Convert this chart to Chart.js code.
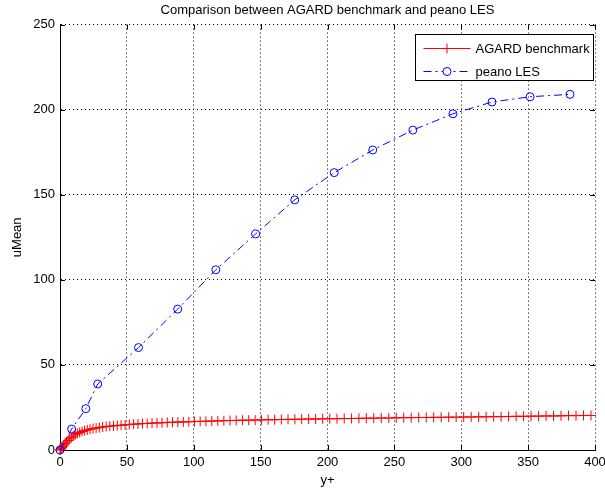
<!DOCTYPE html>
<html>
<head>
<meta charset="utf-8">
<script src="https://cdn.jsdelivr.net/npm/chart.js@4/dist/chart.umd.min.js"></script>
<style>
  html, body { margin: 0; padding: 0; background: #fff; }
  #chart { display: block; }
</style>
</head>
<body>
<canvas id="chart" width="605" height="489"></canvas>
<script>
// AGARD benchmark (red, '+')
const agardX = [0, 0.4, 0.9, 1.5, 2.2, 3.0, 3.9, 4.9, 6.0, 7.2, 8.5, 9.9, 11.4, 13.0, 14.7, 16.5, 18.4, 20.4, 22.5, 24.7,
  27.0, 29.4, 31.9, 34.5, 37.2, 40.0, 42.8, 45.7, 48.7, 51.8, 55.0, 58.3, 61.7, 65.2, 68.8, 72.5, 76.3, 80.2, 84.1, 88.1,
  92.2, 96.3, 100.5, 104.8, 109.1, 113.5, 118.0, 122.5, 127.1, 131.7, 136.4, 141.1, 145.9, 150.7, 155.6, 160.5, 165.5,
  170.5, 175.6, 180.7, 185.9, 191.1, 196.4, 201.7, 207.1, 212.5, 218.0, 223.5, 229.0, 234.6, 240.2, 245.8, 251.4, 257.0,
  262.6, 268.2, 273.8, 279.4, 285.0, 290.6, 296.2, 301.8, 307.4, 313.0, 318.6, 324.2, 329.8, 335.4, 341.0, 346.6, 352.2,
  357.8, 363.4, 369.0, 374.6, 380.2, 385.8, 391.4, 397.0];
const agardY = [0, 0.4, 0.9, 1.5, 2.2, 2.95, 3.8, 4.7, 5.6, 6.5, 7.4, 8.2, 9.0, 9.7, 10.3, 10.9, 11.4, 11.8, 12.2, 12.6,
  12.9, 13.2, 13.5, 13.8, 14.0, 14.2, 14.4, 14.6, 14.8, 15.0, 15.2, 15.3, 15.5, 15.6, 15.8, 15.9, 16.0, 16.2, 16.3, 16.4,
  16.5, 16.6, 16.7, 16.8, 16.9, 17.0, 17.1, 17.2, 17.3, 17.4, 17.5, 17.5, 17.6, 17.7, 17.8, 17.8, 17.9,
  18.0, 18.0, 18.1, 18.2, 18.2, 18.3, 18.4, 18.4, 18.5, 18.5, 18.6, 18.7, 18.7, 18.8, 18.8, 18.9, 19.0,
  19.0, 19.1, 19.1, 19.2, 19.2, 19.3, 19.3, 19.4, 19.4, 19.5, 19.5, 19.6, 19.6, 19.7, 19.8, 19.8, 19.9,
  19.9, 20.0, 20.0, 20.1, 20.2, 20.2, 20.3, 20.3];

// peano LES (blue, 'o', dash-dot)
const peanoX = [0, 8.7, 19.3, 28.2, 58.7, 88.0, 116.5, 146.3, 175.5, 205.0, 233.8, 263.8, 293.8, 323.0, 351.5, 381.3];
const peanoY = [0, 12.3, 24.3, 38.8, 60.2, 82.8, 105.9, 127.0, 147.0, 163.0, 176.3, 188.0, 197.6, 204.5, 207.6, 209.0];

const xTicks = [0, 50, 100, 150, 200, 250, 300, 350, 400];
const yTicks = [0, 50, 100, 150, 200, 250];

const seriesNames = ['AGARD benchmark', 'peano LES'];

const FONT = 'Liberation Sans, Arial, sans-serif';
const FSIZE = 13;

// MATLAB style ticks pointing into the axes box
const innerTicks = {
  id: 'innerTicks',
  beforeDatasetsDraw(chart) {
    const {ctx, chartArea: a, scales: {x, y}} = chart;
    ctx.save();
    ctx.strokeStyle = '#000';
    ctx.lineWidth = 1;
    ctx.beginPath();
    xTicks.forEach(v => {
      const px = Math.round(x.getPixelForValue(v)) + 0.5;
      ctx.moveTo(px, a.bottom); ctx.lineTo(px, a.bottom - 5);
      ctx.moveTo(px, a.top); ctx.lineTo(px, a.top + 5);
    });
    yTicks.forEach(v => {
      const py = Math.round(y.getPixelForValue(v)) + 0.5;
      ctx.moveTo(a.left, py); ctx.lineTo(a.left + 5, py);
      ctx.moveTo(a.right, py); ctx.lineTo(a.right - 5, py);
    });
    ctx.stroke();
    ctx.restore();
  }
};

// legend box inside the axes, top right
const boxLegend = {
  id: 'boxLegend',
  afterDraw(chart) {
    const {ctx, chartArea: a} = chart;
    const w = 178, h = 46;
    const bx = Math.round(a.right - 2 - w) + 0.5, by = Math.round(a.top + 9) + 0.5;
    ctx.save();
    ctx.fillStyle = '#fff';
    ctx.fillRect(bx, by, w, h);
    ctx.strokeStyle = '#000';
    ctx.lineWidth = 1;
    ctx.strokeRect(bx, by, w, h);
    ctx.font = FSIZE + 'px ' + FONT;
    ctx.textBaseline = 'middle';
    chart.data.datasets.forEach(ds => {
      const row = ds.label === seriesNames[0] ? 0 : 1;
      const ly = Math.round(by + 13 + row * 23) + 0.5;
      const x0 = bx + 8, x1 = bx + 55, xm = (x0 + x1) / 2;
      ctx.strokeStyle = ds.borderColor;
      ctx.lineWidth = 1;
      ctx.setLineDash(ds.borderDash || []);
      ctx.beginPath();
      ctx.moveTo(x0, ly); ctx.lineTo(x1, ly);
      ctx.stroke();
      ctx.setLineDash([]);
      ctx.beginPath();
      if (ds.pointStyle === 'cross') {
        ctx.moveTo(xm - 5, ly); ctx.lineTo(xm + 5, ly);
        ctx.moveTo(xm, ly - 5); ctx.lineTo(xm, ly + 5);
        ctx.stroke();
      } else {
        ctx.fillStyle = '#fff';
        ctx.arc(xm, ly, ds.pointRadius, 0, Math.PI * 2);
        ctx.fill();
        ctx.stroke();
      }
      ctx.fillStyle = '#000';
      ctx.fillText(ds.label, bx + 60, ly + 1);
    });
    ctx.restore();
  }
};

const ctx = document.getElementById('chart').getContext('2d');

new Chart(ctx, {
  type: 'line',
  data: {
    datasets: [{
      label: seriesNames[1],
      data: peanoX.map((v, i) => ({x: v, y: peanoY[i]})),
      borderColor: 'rgb(0, 0, 255)',
      borderWidth: 1,
      borderDash: [8, 4, 2, 4],
      pointStyle: 'circle',
      pointRadius: 4,
      pointBorderWidth: 1,
      pointBackgroundColor: 'rgba(0, 0, 0, 0)',
      fill: false,
      tension: 0,
      clip: false,
      order: 0
    }, {
      label: seriesNames[0],
      data: agardX.map((v, i) => ({x: v, y: agardY[i]})),
      borderColor: 'rgb(255, 0, 0)',
      borderWidth: 1,
      pointStyle: 'cross',
      pointRadius: 5,
      pointBorderWidth: 1,
      fill: false,
      tension: 0,
      clip: false,
      order: 1
    }]
  },
  options: {
    responsive: false,
    animation: false,
    events: [],
    layout: {padding: {right: 10, top: 0, left: 0, bottom: 0}},
    plugins: {
      legend: {display: false},
      tooltip: {enabled: false},
      title: {
        display: true,
        text: 'Comparison between AGARD benchmark and peano LES',
        color: '#000',
        fullSize: false,
        font: {family: FONT, size: FSIZE, weight: 'normal'},
        padding: {top: 3, bottom: 6}
      }
    },
    scales: {
      x: {
        type: 'linear',
        min: 0,
        max: 400,
        afterBuildTicks: axis => { axis.ticks = xTicks.map(v => ({value: v})); },
        afterFit: scale => { scale.height = 39; scale.paddingLeft = 0; scale.paddingRight = 0; },
        grid: {color: '#000', lineWidth: 1, drawTicks: false},
        border: {display: true, color: '#000', width: 1, dash: [1, 3]},
        ticks: {color: '#000', padding: 5, maxRotation: 0, font: {family: FONT, size: FSIZE}},
        title: {display: true, text: 'y+', color: '#000', padding: {top: 0, bottom: 1}, font: {family: FONT, size: FSIZE}}
      },
      y: {
        type: 'linear',
        min: 0,
        max: 250,
        afterBuildTicks: axis => { axis.ticks = yTicks.map(v => ({value: v})); },
        afterFit: scale => { scale.width = 60; scale.paddingTop = 0; scale.paddingBottom = 0; },
        grid: {color: '#000', lineWidth: 1, drawTicks: false},
        border: {display: true, color: '#000', width: 1, dash: [1, 3]},
        ticks: {color: '#000', padding: 5, font: {family: FONT, size: FSIZE}},
        title: {display: true, text: 'uMean', color: '#000', padding: {top: 10, bottom: 0}, font: {family: FONT, size: FSIZE}}
      }
    }
  },
  plugins: [innerTicks, boxLegend]
});
</script>
</body>
</html>
